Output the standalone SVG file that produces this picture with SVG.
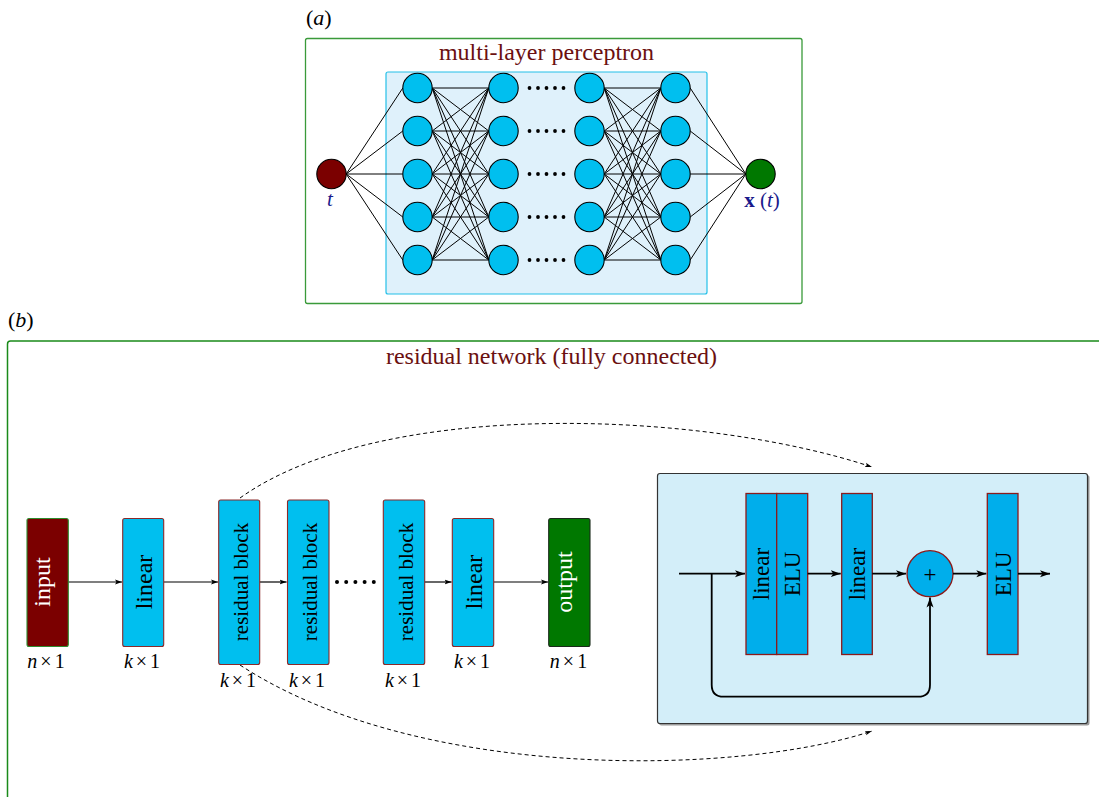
<svg xmlns="http://www.w3.org/2000/svg" width="1099" height="797" viewBox="0 0 1099 797">
<style>
text{font-family:"Liberation Serif","Times New Roman",serif;}
.ttl{font-size:24px;fill:#6b1010;text-anchor:middle;}
.lab{font-size:22px;fill:#000;}
.dim{font-size:20px;fill:#000;text-anchor:middle;}
.neu{fill:#00bfef;stroke:#000;stroke-width:1.1;}
.blk{fill:#00bfef;stroke:#8b2a2a;stroke-width:1.1;}
.iblk{fill:#00aeeb;stroke:#8b1a1a;stroke-width:1.3;}
.bt{font-size:24px;text-anchor:middle;fill:#000;}
.rbt{font-size:21px;text-anchor:middle;fill:#000;}
.wt{font-size:24px;text-anchor:middle;fill:#fff;}
.it{font-size:23px;text-anchor:middle;fill:#000;}
.fc{stroke:#000;stroke-width:1;fill:none;}
.flow{stroke:#000;stroke-width:1.2;fill:none;marker-end:url(#ah);}
.iflow{stroke:#000;stroke-width:1.8;fill:none;marker-end:url(#ah2);}
.dash{stroke:#000;stroke-width:1;fill:none;stroke-dasharray:4 3;marker-end:url(#ah3);}
.dot{fill:#000;}
</style>
<defs>
<marker id="ah" markerWidth="8" markerHeight="6" refX="7" refY="3" orient="auto" markerUnits="userSpaceOnUse"><path d="M0,0.5 L7,3 L0,5.5 L1.5,3 z" fill="#000"/></marker>
<marker id="ah2" markerWidth="11" markerHeight="8" refX="10" refY="4" orient="auto" markerUnits="userSpaceOnUse"><path d="M0,0.5 L10,4 L0,7.5 L2.5,4 z" fill="#000"/></marker>
<marker id="ah3" markerWidth="8" markerHeight="6" refX="7" refY="3" orient="auto" markerUnits="userSpaceOnUse"><path d="M0,0.8 L7,3 L0,5.2 L1.5,3 z" fill="#000"/></marker>
</defs>
<rect width="1099" height="797" fill="#fff"/>

<!-- panel (a) -->
<text class="lab" x="306" y="25">(<tspan font-style="italic">a</tspan>)</text>
<rect x="305.5" y="38.5" width="496.5" height="265" rx="2" fill="#fff" stroke="#3a9a3a" stroke-width="1.3"/>
<text class="ttl" x="546.5" y="60">multi-layer perceptron</text>
<rect x="386" y="72" width="321" height="222" rx="2" fill="#dff1fb" stroke="#25c0e8" stroke-width="1.2"/>

<g id="mlp-connectors">
<path class="fc" d="M346.2,174L402.8,88M346.2,174L402.8,131M346.2,174L402.8,174M346.2,174L402.8,217M346.2,174L402.8,260"/>
<path class="fc" d="M432.2,88L488.8,88M432.2,88L488.8,131M432.2,88L488.8,174M432.2,88L488.8,217M432.2,88L488.8,260M432.2,131L488.8,88M432.2,131L488.8,131M432.2,131L488.8,174M432.2,131L488.8,217M432.2,131L488.8,260M432.2,174L488.8,88M432.2,174L488.8,131M432.2,174L488.8,174M432.2,174L488.8,217M432.2,174L488.8,260M432.2,217L488.8,88M432.2,217L488.8,131M432.2,217L488.8,174M432.2,217L488.8,217M432.2,217L488.8,260M432.2,260L488.8,88M432.2,260L488.8,131M432.2,260L488.8,174M432.2,260L488.8,217M432.2,260L488.8,260"/>
<path class="fc" d="M604.2,88L660.8,88M604.2,88L660.8,131M604.2,88L660.8,174M604.2,88L660.8,217M604.2,88L660.8,260M604.2,131L660.8,88M604.2,131L660.8,131M604.2,131L660.8,174M604.2,131L660.8,217M604.2,131L660.8,260M604.2,174L660.8,88M604.2,174L660.8,131M604.2,174L660.8,174M604.2,174L660.8,217M604.2,174L660.8,260M604.2,217L660.8,88M604.2,217L660.8,131M604.2,217L660.8,174M604.2,217L660.8,217M604.2,217L660.8,260M604.2,260L660.8,88M604.2,260L660.8,131M604.2,260L660.8,174M604.2,260L660.8,217M604.2,260L660.8,260"/>
<path class="fc" d="M690.2,88L745.8,174M690.2,131L745.8,174M690.2,174L745.8,174M690.2,217L745.8,174M690.2,260L745.8,174"/>
</g>

<g id="mlp-input">
<circle cx="331.5" cy="174" r="14.7" fill="#7b0000" stroke="#000" stroke-width="1.1"/>
<text x="330" y="206" font-size="21" font-style="italic" fill="#1a1a8c" text-anchor="middle">t</text>
</g>
<g id="mlp-output">
<circle cx="760.5" cy="174" r="14.7" fill="#007800" stroke="#000" stroke-width="1.1"/>
<text x="762" y="207" font-size="21" fill="#1a1a8c" text-anchor="middle"><tspan font-weight="bold">x</tspan> (<tspan font-style="italic">t</tspan>)</text>
</g>
<g id="mlp-layer1">
<circle class="neu" cx="417.5" cy="88" r="14.7"/><circle class="neu" cx="417.5" cy="131" r="14.7"/><circle class="neu" cx="417.5" cy="174" r="14.7"/><circle class="neu" cx="417.5" cy="217" r="14.7"/><circle class="neu" cx="417.5" cy="260" r="14.7"/>
</g>
<g id="mlp-layer2">
<circle class="neu" cx="503.5" cy="88" r="14.7"/><circle class="neu" cx="503.5" cy="131" r="14.7"/><circle class="neu" cx="503.5" cy="174" r="14.7"/><circle class="neu" cx="503.5" cy="217" r="14.7"/><circle class="neu" cx="503.5" cy="260" r="14.7"/>
</g>
<g id="mlp-dots">
<g class="dot">
<circle cx="529.5" cy="88" r="1.9"/><circle cx="538" cy="88" r="1.9"/><circle cx="546.5" cy="88" r="1.9"/><circle cx="555" cy="88" r="1.9"/><circle cx="563.5" cy="88" r="1.9"/>
<circle cx="529.5" cy="131" r="1.9"/><circle cx="538" cy="131" r="1.9"/><circle cx="546.5" cy="131" r="1.9"/><circle cx="555" cy="131" r="1.9"/><circle cx="563.5" cy="131" r="1.9"/>
<circle cx="529.5" cy="174" r="1.9"/><circle cx="538" cy="174" r="1.9"/><circle cx="546.5" cy="174" r="1.9"/><circle cx="555" cy="174" r="1.9"/><circle cx="563.5" cy="174" r="1.9"/>
<circle cx="529.5" cy="217" r="1.9"/><circle cx="538" cy="217" r="1.9"/><circle cx="546.5" cy="217" r="1.9"/><circle cx="555" cy="217" r="1.9"/><circle cx="563.5" cy="217" r="1.9"/>
<circle cx="529.5" cy="260" r="1.9"/><circle cx="538" cy="260" r="1.9"/><circle cx="546.5" cy="260" r="1.9"/><circle cx="555" cy="260" r="1.9"/><circle cx="563.5" cy="260" r="1.9"/>
</g>
</g>
<g id="mlp-layer3">
<circle class="neu" cx="589.5" cy="88" r="14.7"/><circle class="neu" cx="589.5" cy="131" r="14.7"/><circle class="neu" cx="589.5" cy="174" r="14.7"/><circle class="neu" cx="589.5" cy="217" r="14.7"/><circle class="neu" cx="589.5" cy="260" r="14.7"/>
</g>
<g id="mlp-layer4">
<circle class="neu" cx="675.5" cy="88" r="14.7"/><circle class="neu" cx="675.5" cy="131" r="14.7"/><circle class="neu" cx="675.5" cy="174" r="14.7"/><circle class="neu" cx="675.5" cy="217" r="14.7"/><circle class="neu" cx="675.5" cy="260" r="14.7"/>
</g>

<!-- panel (b) -->
<text class="lab" x="8" y="327">(<tspan font-style="italic">b</tspan>)</text>
<path d="M7.5,800 V344 Q7.5,341 10.5,341 H1105" fill="none" stroke="#1a8a1a" stroke-width="1.5"/>
<text class="ttl" x="551.5" y="364">residual network (fully connected)</text>

<g id="resblock-detail">
<rect x="659" y="475" width="430.5" height="250.5" rx="2.5" fill="#9a9a9a"/>
<rect x="657.5" y="473.5" width="430" height="250" rx="2.5" fill="#d3eef9" stroke="#333" stroke-width="1.2"/>
<g id="rb-linear1"><rect class="iblk" x="746" y="493.5" width="30.7" height="161"/><text class="it" transform="translate(761.3,574) rotate(-90)" y="7.5">linear</text></g>
<g id="rb-elu1"><rect class="iblk" x="776.7" y="493.5" width="31" height="161"/><text class="it" transform="translate(792.2,574) rotate(-90)" y="7.8">ELU</text></g>
<g id="rb-linear2"><rect class="iblk" x="841.7" y="493.5" width="30.6" height="161"/><text class="it" transform="translate(857,574) rotate(-90)" y="7.5">linear</text></g>
<g id="rb-sum"><circle cx="930" cy="573.7" r="23" fill="#00aeeb" stroke="#8b1a1a" stroke-width="1.3"/><text x="930" y="581.5" font-size="23" text-anchor="middle">+</text></g>
<g id="rb-elu2"><rect class="iblk" x="987.3" y="493.5" width="30.7" height="161"/><text class="it" transform="translate(1002.7,574) rotate(-90)" y="7.8">ELU</text></g>
<g id="rb-connectors">
<path class="iflow" d="M679,573.7 H745"/>
<path class="iflow" d="M807.7,573.7 H840.7"/>
<path class="iflow" d="M872.3,573.7 H906"/>
<path class="iflow" d="M953,573.7 H986.3"/>
<path class="iflow" d="M1018,573.7 H1050"/>
<path class="iflow" d="M711.7,573.7 V684.7 Q711.7,696.7 723.7,696.7 H918 Q930,696.7 930,684.7 V597.5"/>
</g>
</g>

<g id="connectors">
<path class="flow" d="M68.3,582 H122"/>
<path class="flow" d="M163.7,582 H218"/>
<path class="flow" d="M259.7,582 H286.6"/>
<path class="flow" d="M424.7,582 H451.6"/>
<path class="flow" d="M493.7,582 H548"/>
<path class="dash" d="M240,498 C380,398 700,410 872,467"/>
<path class="dash" d="M240,665 C420,783 740,775 872,731"/>
</g>

<g id="input"><rect x="27" y="518.5" width="41.3" height="128" rx="2" fill="#7b0000" stroke="#2e8b2e" stroke-width="1.1"/><text class="wt" transform="translate(47.6,582) rotate(-90)" y="2.5">input</text><text class="dim" x="46" y="668"><tspan font-style="italic">n</tspan><tspan dx="3">×</tspan><tspan dx="3">1</tspan></text></g>
<g id="linear1"><rect class="blk" x="122.7" y="518.5" width="41" height="128" rx="2"/><text class="bt" transform="translate(143.2,582) rotate(-90)" y="8.5">linear</text><text class="dim" x="142" y="668"><tspan font-style="italic">k</tspan><tspan dx="3">×</tspan><tspan dx="3">1</tspan></text></g>
<g id="residual1"><rect class="blk" x="218.7" y="500" width="41" height="164.5" rx="2"/><text class="rbt" transform="translate(239.2,582) rotate(-90)" y="8.5">residual block</text><text class="dim" x="238" y="687"><tspan font-style="italic">k</tspan><tspan dx="3">×</tspan><tspan dx="3">1</tspan></text></g>
<g id="residual2"><rect class="blk" x="287.5" y="500" width="41.5" height="164.5" rx="2"/><text class="rbt" transform="translate(308.2,582) rotate(-90)" y="8.5">residual block</text><text class="dim" x="307" y="687"><tspan font-style="italic">k</tspan><tspan dx="3">×</tspan><tspan dx="3">1</tspan></text></g>
<g id="ellipsis"><g class="dot"><circle cx="337" cy="582" r="2"/><circle cx="346.2" cy="582" r="2"/><circle cx="355.4" cy="582" r="2"/><circle cx="364.6" cy="582" r="2"/><circle cx="373.8" cy="582" r="2"/></g></g>
<g id="residual3"><rect class="blk" x="383.3" y="500" width="41.4" height="164.5" rx="2"/><text class="rbt" transform="translate(404,582) rotate(-90)" y="8.5">residual block</text><text class="dim" x="403" y="687"><tspan font-style="italic">k</tspan><tspan dx="3">×</tspan><tspan dx="3">1</tspan></text></g>
<g id="linear2"><rect class="blk" x="452.3" y="518.5" width="41.4" height="128" rx="2"/><text class="bt" transform="translate(473,582) rotate(-90)" y="8.5">linear</text><text class="dim" x="472" y="668"><tspan font-style="italic">k</tspan><tspan dx="3">×</tspan><tspan dx="3">1</tspan></text></g>
<g id="output"><rect x="548.7" y="518.5" width="41.3" height="128" rx="2" fill="#007800" stroke="#1a2a1a" stroke-width="1.1"/><text class="wt" transform="translate(569.3,582) rotate(-90)" y="2.5">output</text><text class="dim" x="568.5" y="668"><tspan font-style="italic">n</tspan><tspan dx="3">×</tspan><tspan dx="3">1</tspan></text></g>
</svg>
